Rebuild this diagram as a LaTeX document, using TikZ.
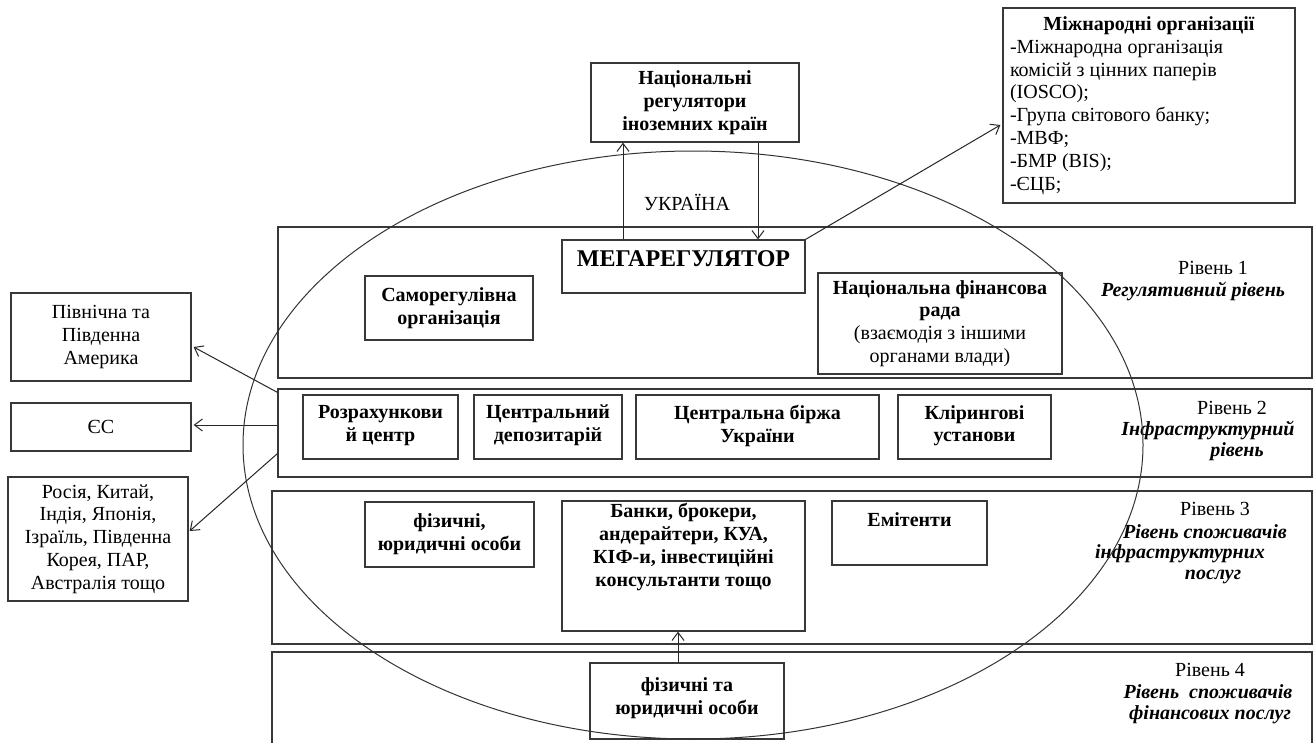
\documentclass[tikz,border=0pt]{standalone}
\usepackage{fontspec}
\setmainfont{Liberation Serif}
\usetikzlibrary{arrows.meta}
\newcommand\dfs{\fontsize{20}{22.8}\selectfont}
\begin{document}
\begin{tikzpicture}[x=1pt,y=-1pt,
  bx/.style={draw=black!78, line width=1.3pt, inner sep=0pt, align=center, font=\dfs\bfseries},
  rbx/.style={draw=black!78, line width=1.3pt, inner sep=0pt, align=center, font=\dfs},
  lvl/.style={draw=black!78, line width=1.3pt},
  con/.style={draw=black!85, line width=1pt, -{Straight Barb[length=8pt,width=12pt]}},
  ell/.style={draw=black!80, line width=1pt},
  txt/.style={inner sep=0pt, font=\dfs, align=center},
  btxt/.style={inner sep=0pt, font=\dfs\bfseries\itshape, align=center},
]
\fill[white] (0,0) rectangle (1314,742);
\useasboundingbox (0,0) rectangle (1314,742);

% level frames
\node[lvl, minimum width=1034pt, minimum height=151pt, inner sep=0pt] (L1) at (795,302.5) {};
\node[lvl, minimum width=1034pt, minimum height=88pt, inner sep=0pt] (L2) at (795,433) {};
\node[lvl, minimum width=1040pt, minimum height=153pt, inner sep=0pt] (L3) at (792,567.5) {};
\draw[lvl] (272,745) -- (272,652) -- (1312,652) -- (1312,745);

% top boxes
\node[rbx, minimum width=292pt, minimum height=195pt] (intl) at (1149,105.5)
  {\begin{minipage}{278pt}\centering\textbf{Міжнародні організації}\par
   \raggedright -Міжнародна організація\\комісій з цінних паперів\\(IOSCO);\\-Група світового банку;\\-МВФ;\\-БМР (BIS);\\-ЄЦБ;\end{minipage}};
\node[bx, minimum width=208pt, minimum height=79pt] (natreg) at (695,102.5)
  {Національні\\регулятори\\іноземних країн};
\node[txt] (ukr) at (687,202) {УКРАЇНА};

% level 1
\node[bx, minimum width=243pt, minimum height=53pt, font=\fontsize{24}{26}\selectfont\bfseries,
      text height=26pt, text depth=27pt] (mega) at (683.5,266.5) {МЕГАРЕГУЛЯТОР};
\node[bx, minimum width=168pt, minimum height=64pt] (sro) at (449,308)
  {Саморегулівна\\організація};
\node[bx, minimum width=244pt, minimum height=101pt] (nfr) at (940,323.5)
  {Національна фінансова\\рада\\\normalfont\dfs (взаємодія з іншими\\\normalfont\dfs органами влади)};
\node[txt] (r1a) at (1213,268) {Рівень 1};
\node[btxt] (r1b) at (1193,291) {Регулятивний рівень};

% level 2
\node[bx, minimum width=155pt, minimum height=64pt, text depth=7pt] (rc) at (380.5,427) {Розрахункови\\й центр};
\node[bx, minimum width=148pt, minimum height=64pt, text depth=7pt] (cd) at (548,427) {Центральний\\депозитарій};
\node[bx, minimum width=243pt, minimum height=64pt, text depth=7pt] (cb) at (757.5,427) {Центральна біржа\\України};
\node[bx, minimum width=153pt, minimum height=64pt, text depth=7pt] (kl) at (974.5,427) {Клірингові\\установи};
\node[txt] (r2a) at (1232,408) {Рівень 2};
\node[btxt] (r2b) at (1208,430) {Інфраструктурний};
\node[btxt] (r2c) at (1237,452) {рівень};

% level 3
\node[bx, minimum width=169pt, minimum height=65pt] (fo) at (449.5,534.5) {фізичні,\\юридичні особи};
\node[bx, minimum width=243pt, minimum height=130pt] (banks) at (683.5,566) {};
\node[txt, font=\dfs\bfseries] (banksT) at (683.5,547)
  {Банки, брокери,\\андерайтери, КУА,\\КІФ-и, інвестиційні\\консультанти тощо};
\node[bx, minimum width=155pt, minimum height=64pt] (emit) at (909.5,533) {};
\node[txt, font=\dfs\bfseries] (emitT) at (909.5,520) {Емітенти};
\node[txt] (r3a) at (1215,509) {Рівень 3};
\node[btxt] (r3b) at (1205,532) {Рівень споживачів};
\node[btxt] (r3c) at (1180,554) {інфраструктурних};
\node[btxt] (r3d) at (1213,577) {послуг};

% level 4
\node[bx, minimum width=194pt, minimum height=76pt, text depth=10pt] (fiz4) at (687,701) {фізичні та\\юридичні особи};
\node[txt] (r4a) at (1210,670) {Рівень 4};
\node[btxt] (r4b) at (1208,692) {Рівень\ \ споживачів};
\node[btxt] (r4c) at (1210,715) {фінансових послуг};

% left boxes
\node[rbx, minimum width=180pt, minimum height=88pt] (am) at (101,337) {Північна та\\Південна\\Америка};
\node[rbx, minimum width=180pt, minimum height=48pt] (eu) at (101,427) {ЄС};
\node[rbx, minimum width=180pt, minimum height=124pt] (as) at (98,539)
  {Росія, Китай,\\Індія, Японія,\\Ізраїль, Південна\\Корея, ПАР,\\Австралія тощо};

% ellipse (Ukraine)
\draw[ell] (693,445) ellipse [x radius=450pt, y radius=294pt];

% connectors
\draw[con] ([xshift=-60.5pt]mega.north) -- ([xshift=-60.5pt]mega.north |- natreg.south);
\draw[con] ([xshift=63pt]natreg.south) -- ([xshift=63pt]natreg.south |- mega.north);
\draw[con] (mega.north east) -- ([xshift=-2pt,yshift=-19.5pt]intl.west);
\draw[con] ([yshift=-4pt]L2.north west) -- ([xshift=2pt,yshift=-10pt]am.east);
\draw[con] ([yshift=8pt]L2.west) -- ([xshift=2pt,yshift=2pt]eu.east);
\draw[con] ([yshift=24pt]L2.south west) -- ([xshift=1pt,yshift=8pt]as.east);
\draw[con] ([xshift=-9pt]fiz4.north) -- ([xshift=-9pt]fiz4.north |- banks.south);
\end{tikzpicture}
\end{document}
